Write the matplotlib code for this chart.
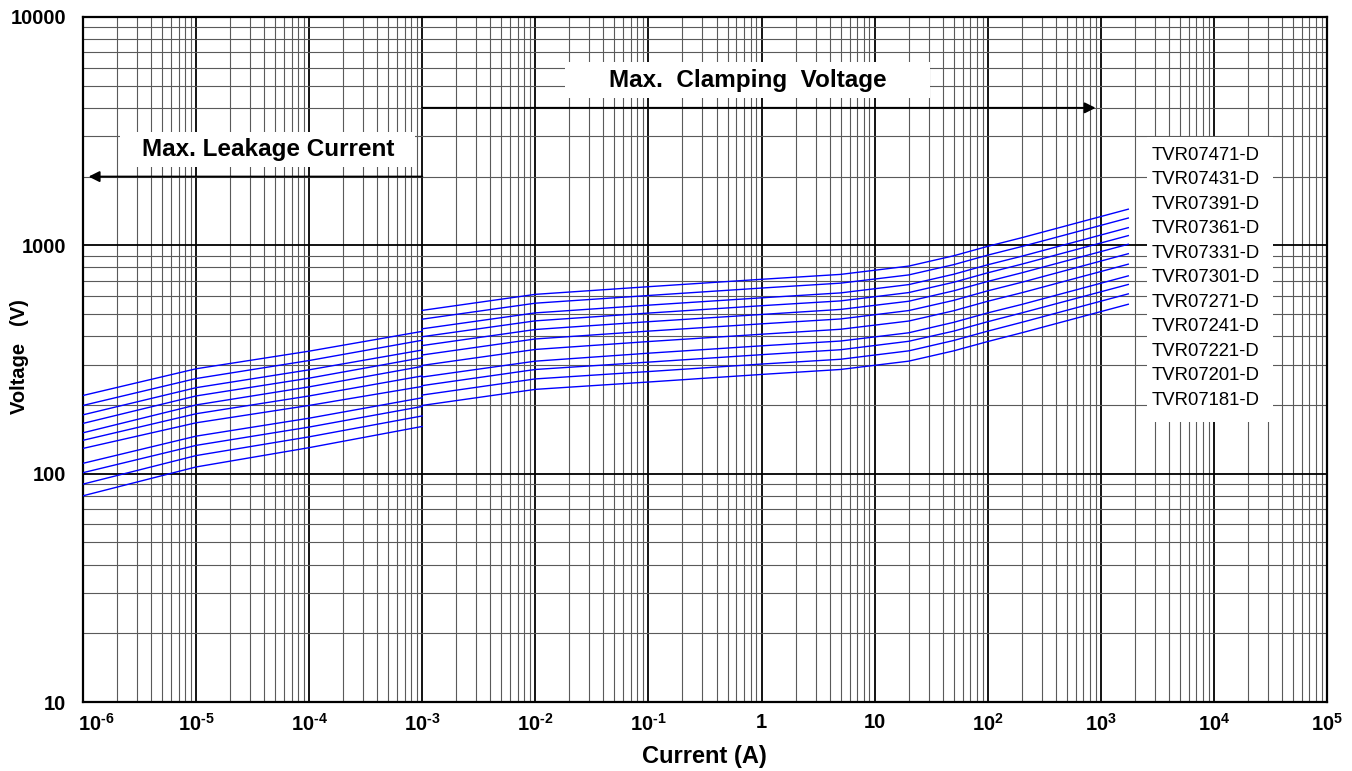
### Voltage / current characteristics of TVR07 varistors (log-log chart)
import matplotlib
matplotlib.use('Agg')
import matplotlib.pyplot as plt
import matplotlib.transforms as mtransforms
from matplotlib.patches import Rectangle
from matplotlib.ticker import LogLocator, NullFormatter
import numpy as np

plt.rcParams['font.family'] = ['Liberation Sans', 'DejaVu Sans']
plt.rcParams['mathtext.fontset'] = 'custom'
plt.rcParams['mathtext.rm'] = 'Liberation Sans'
plt.rcParams['mathtext.bf'] = 'Liberation Sans:bold'
plt.rcParams['mathtext.it'] = 'Liberation Sans:italic'

# --- data ---
models = ['TVR07471-D', 'TVR07431-D', 'TVR07391-D', 'TVR07361-D',
          'TVR07331-D', 'TVR07301-D', 'TVR07271-D', 'TVR07241-D',
          'TVR07221-D', 'TVR07201-D', 'TVR07181-D']

# leakage region (A)
leak_i = [1e-6, 1e-5, 1e-4, 1e-3]
leak_v = [
    [220, 288, 344, 420],
    [199, 261, 313, 384],
    [181, 238, 285, 348],
    [166, 219, 262, 322],
    [151, 200, 240, 295],
    [140, 183, 219, 268],
    [129, 167, 199, 241],
    [111, 146, 175, 215],
    [101, 133, 160, 197],
    [90, 120, 145, 179],
    [80, 107, 130, 161],
]

# clamping region (A)
clamp_i = [1e-3, 1e-2, 1e-1, 1, 5, 20, 50, 100, 200, 1750]
clamp_v = [
    [519, 610, 659, 710, 746, 811, 900, 990, 1080, 1440],
    [475, 558, 603, 650, 683, 742, 823, 906, 988, 1317],
    [431, 506, 547, 589, 619, 673, 747, 822, 896, 1195],
    [398, 467, 505, 544, 571, 621, 689, 758, 827, 1103],
    [364, 428, 463, 498, 524, 569, 632, 695, 758, 1011],
    [331, 389, 421, 453, 476, 518, 574, 632, 689, 919],
    [298, 350, 379, 408, 429, 466, 517, 569, 620, 827],
    [265, 311, 337, 363, 381, 414, 460, 506, 551, 735],
    [243, 286, 308, 332, 349, 380, 421, 463, 506, 674],
    [221, 260, 280, 302, 317, 345, 383, 421, 460, 613],
    [199, 234, 252, 272, 286, 311, 345, 379, 414, 552],
]

xticks = [1e-6, 1e-5, 1e-4, 1e-3, 1e-2, 1e-1, 1, 10, 1e2, 1e3, 1e4, 1e5]
xtick_labels = ['$\\mathbf{10^{\u20106}}$', '$\\mathbf{10^{\u20105}}$', '$\\mathbf{10^{\u20104}}$',
                '$\\mathbf{10^{\u20103}}$', '$\\mathbf{10^{\u20102}}$', '$\\mathbf{10^{\u20101}}$',
                '1', '10', r'$\mathbf{10^{2}}$', r'$\mathbf{10^{3}}$',
                r'$\mathbf{10^{4}}$', r'$\mathbf{10^{5}}$']
yticks = [10, 100, 1000, 10000]
ytick_labels = ['10', '100', '1000', '10000']

fig = plt.figure(figsize=(13.52, 7.71), dpi=100)
ax = fig.add_axes([83/1352, 1 - 702/771, 1244/1352, 685/771])
ax.set_xscale('log')
ax.set_yscale('log')
ax.set_xlim(1e-6, 1e5)
ax.set_ylim(10, 1e4)

ax.set_xticks(xticks)
ax.set_xticklabels(xtick_labels, fontsize=14.5, fontweight='bold')
ax.set_yticks(yticks)
ax.set_yticklabels(ytick_labels, fontsize=14.5, fontweight='bold')
ax.xaxis.set_minor_locator(LogLocator(base=10, subs=np.arange(2, 10), numticks=100))
ax.yaxis.set_minor_locator(LogLocator(base=10, subs=np.arange(2, 10), numticks=100))
ax.xaxis.set_minor_formatter(NullFormatter())
ax.yaxis.set_minor_formatter(NullFormatter())
ax.tick_params(which='both', length=0)
ax.tick_params(axis='x', pad=8)
ax.tick_params(axis='y', pad=12)

ax.set_axisbelow(True)
ax.grid(which='major', color='black', linewidth=1.3)
ax.grid(which='minor', color='#5a5a5a', linewidth=0.8)
for s in ax.spines.values():
    s.set_linewidth(1.6)

# nudge the first x label to the right like the original
lab0 = ax.get_xticklabels()[0]
lab0.set_transform(lab0.get_transform() + mtransforms.ScaledTranslation(0.13, 0, fig.dpi_scale_trans))

# white boxes hiding the grid behind the annotations
for (x0, y0, w, h) in [(0.0297, 0.781, 0.2372, 0.051),
                       (0.3875, 0.8818, 0.2934, 0.0525),
                       (0.8553, 0.4088, 0.1013, 0.416)]:
    ax.add_patch(Rectangle((x0, y0), w, h, transform=ax.transAxes,
                           facecolor='white', edgecolor='none', zorder=1))

# curves
for lv, cv in zip(leak_v, clamp_v):
    ax.plot(leak_i, lv, color='#0000ff', linewidth=1.0, zorder=3)
    ax.plot(clamp_i, cv, color='#0000ff', linewidth=1.0, zorder=3)

# arrows
ax.annotate('', xy=(1.12e-6, 2000), xytext=(1e-3, 2000),
            arrowprops=dict(arrowstyle='-|>', color='black', lw=1.4,
                            mutation_scale=16, shrinkA=0, shrinkB=0), zorder=4)
ax.annotate('', xy=(900, 4000), xytext=(1e-3, 4000),
            arrowprops=dict(arrowstyle='-|>', color='black', lw=1.4,
                            mutation_scale=16, shrinkA=0, shrinkB=0), zorder=4)

ax.text(0.1485, 0.807, 'Max. Leakage Current', transform=ax.transAxes,
        ha='center', va='center', fontsize=17.5, fontweight='bold', zorder=5)
ax.text(0.5346, 0.908, 'Max.  Clamping  Voltage', transform=ax.transAxes,
        ha='center', va='center', fontsize=17.5, fontweight='bold', zorder=5)

for k, name in enumerate(models):
    ax.text(0.8593, 0.7985 - k * 0.03577, name, transform=ax.transAxes,
            ha='left', va='center', fontsize=13.3, zorder=5)

fig.text(704/1352, 1 - 757/771, 'Current (A)', ha='center', va='center',
         fontsize=17, fontweight='bold')
fig.text(20/1352, 1 - 357/771, 'Voltage   (V)', ha='center', va='center',
         rotation=90, fontsize=14.5, fontweight='bold')

fig.savefig('out.png', dpi=100)
